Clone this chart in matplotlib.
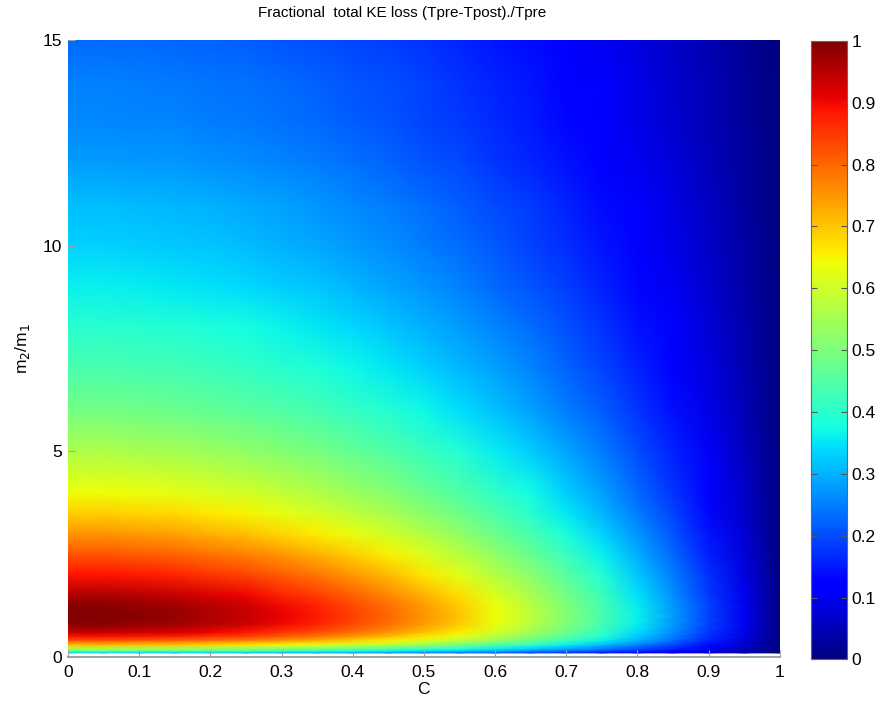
import numpy as np
import matplotlib
matplotlib.use("Agg")
import matplotlib.pyplot as plt

plt.rcParams['font.family'] = ['Liberation Sans', 'DejaVu Sans']

# restitution coefficient C and the loss factor read along the m2/m1 = 1 row
c_values = [0.0, 0.05, 0.1, 0.15, 0.2, 0.25, 0.3, 0.35, 0.4, 0.45, 0.5,
            0.55, 0.6, 0.65, 0.7, 0.75, 0.8, 0.85, 0.9, 0.95, 1.0]
c_factor = [1.00, 1.00, 0.99, 0.98, 0.96, 0.94, 0.91, 0.88, 0.84, 0.80, 0.75,
            0.70, 0.64, 0.58, 0.51, 0.44, 0.36, 0.28, 0.19, 0.10, 0.00]

# mass ratio m2/m1 and the loss read along the C = 0 column
mass_ratio = [0.1, 0.15, 0.2, 0.3, 0.4, 0.5, 0.6, 0.8, 1.0, 1.25, 1.5, 2.0,
              2.5, 3.0, 3.5, 4.0, 5.0, 6.0, 7.0, 8.0, 9.0, 10.0, 11.0, 12.0,
              13.0, 14.0, 15.0]
ratio_loss = [0.33, 0.45, 0.56, 0.71, 0.82, 0.89, 0.94, 0.99, 1.00, 0.99, 0.96,
              0.89, 0.82, 0.75, 0.69, 0.64, 0.56, 0.49, 0.44, 0.40, 0.36, 0.33,
              0.31, 0.28, 0.26, 0.25, 0.23]

xticks = [0, 0.1, 0.2, 0.3, 0.4, 0.5, 0.6, 0.7, 0.8, 0.9, 1]
xticklabels = ['0', '0.1', '0.2', '0.3', '0.4', '0.5', '0.6', '0.7', '0.8', '0.9', '1']
yticks = [0, 5, 10, 15]
cticks = [0, 0.1, 0.2, 0.3, 0.4, 0.5, 0.6, 0.7, 0.8, 0.9, 1]
cticklabels = ['0', '0.1', '0.2', '0.3', '0.4', '0.5', '0.6', '0.7', '0.8', '0.9', '1']

loss = np.outer(ratio_loss, c_factor)

fig = plt.figure(figsize=(8.83, 7.03), dpi=100)
ax = fig.add_axes([0.077, 0.0654, 0.806, 0.878])
cax = fig.add_axes([0.918, 0.062, 0.041, 0.88])

mesh = ax.pcolormesh(c_values, mass_ratio, loss, cmap='jet', vmin=0, vmax=1,
                     shading='gouraud')
ax.set_xlim(0, 1)
ax.set_ylim(0, 15)

ax.set_xticks(xticks)
ax.set_xticklabels(xticklabels)
ax.set_yticks(yticks)
ax.tick_params(direction='in', length=5, labelsize=12.5, colors='#9aa4ad',
               labelcolor='black')
ax.tick_params(axis='x', pad=6)
ax.tick_params(axis='y', pad=4)
for side in ['top', 'right', 'left']:
    ax.spines[side].set_visible(False)
ax.spines['bottom'].set_color('#9aa4ad')
ax.spines['bottom'].set_linewidth(1.5)

ax.set_xlabel('C', fontsize=12.5, labelpad=1)
ax.set_ylabel('m$_2$/m$_1$', fontsize=12.5, labelpad=8)

fig.text(0.455, 0.981, 'Fractional  total KE loss (Tpre-Tpost)./Tpre',
         ha='center', va='center', fontsize=11)

cb = fig.colorbar(mesh, cax=cax, ticks=cticks)
cb.ax.set_yticklabels(cticklabels)
cb.ax.tick_params(direction='in', length=4, labelsize=12.5, left=True, right=True,
                  colors='#555555', labelcolor='black')
cb.outline.set_edgecolor('#666666')

fig.savefig('out.png', dpi=100)
